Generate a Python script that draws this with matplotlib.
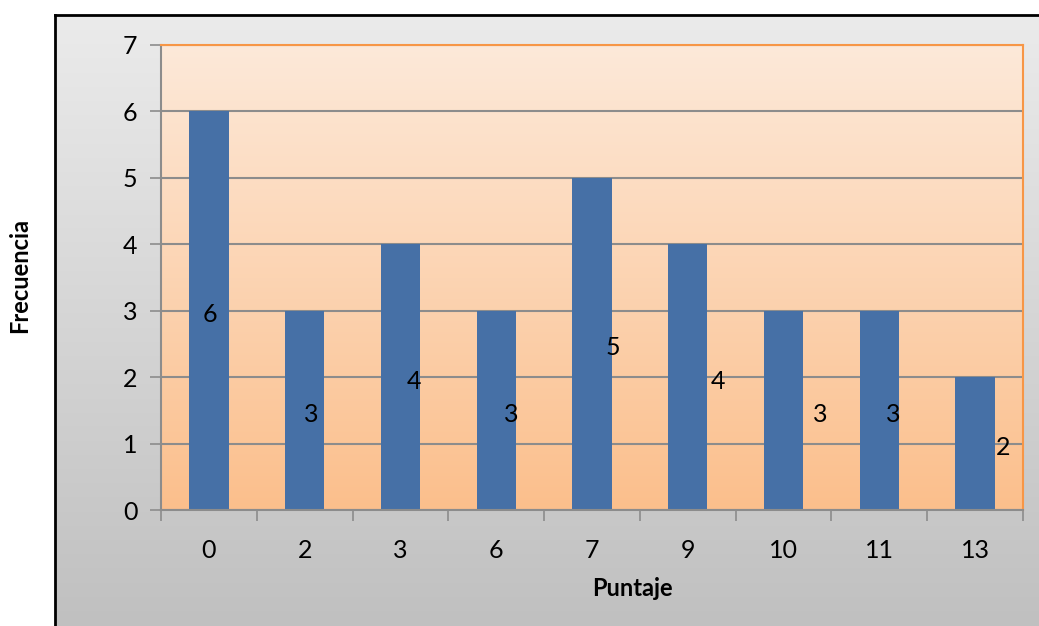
import numpy as np
import matplotlib.pyplot as plt
from matplotlib.colors import LinearSegmentedColormap

# frecuencia de cada puntaje
puntajes = ['0', '2', '3', '6', '7', '9', '10', '11', '13']
frecuencias = [6, 3, 4, 3, 5, 4, 3, 3, 2]

# desplazamiento horizontal de cada etiqueta de valor
desplaz = [0.01, 0.07, 0.14, 0.16, 0.22, 0.32, 0.38, 0.15, 0.29]

plt.rcParams['font.family'] = ['Lato', 'DejaVu Sans']

W, H = 1039, 626
fig = plt.figure(figsize=(W / 100, H / 100), dpi=100)
fig.patch.set_facecolor('white')

# panel gris de fondo
bg = fig.add_axes([55 / W, 0, 1 - 55 / W, 1 - 15 / H])
gris = LinearSegmentedColormap.from_list('gris', ['#c0c0c0', '#ebebeb'])
bg.imshow(np.linspace(0, 1, 256).reshape(-1, 1), cmap=gris, origin='lower',
          aspect='auto', extent=[0, 1, 0, 1])
bg.set_xlim(0, 1)
bg.set_ylim(0, 1)
bg.set_xticks([])
bg.set_yticks([])
for s in ['right', 'bottom']:
    bg.spines[s].set_visible(False)
for s in ['left', 'top']:
    bg.spines[s].set_color('black')
    bg.spines[s].set_linewidth(2)

# area de trazado
ax = fig.add_axes([161 / W, (H - 510) / H, 862 / W, 465 / H])
n = len(puntajes)
x = np.arange(n)
naranja = LinearSegmentedColormap.from_list('nar', ['#fbbf8c', '#fde9d9'])
ax.imshow(np.linspace(0, 1, 256).reshape(-1, 1), cmap=naranja, origin='lower',
          aspect='auto', extent=[-0.5, n - 0.5, 0, 7], zorder=0)

ax.set_xlim(-0.5, n - 0.5)
ax.set_ylim(0, 7)
ax.set_yticks(range(8))
ax.yaxis.grid(True, color='#8c8c8c', linewidth=1.5, zorder=1)
ax.set_axisbelow(True)

ax.bar(x, frecuencias, width=0.41, color='#4670a6', zorder=2)

for i, v in enumerate(frecuencias):
    ax.text(i + desplaz[i], v / 2 - 0.06, str(v), ha='center', va='center',
            fontsize=18, color='black', zorder=3)

ax.set_xticks(x)
ax.set_xticklabels(puntajes)
ax.set_xticks(np.arange(-0.5, n, 1), minor=True)
ax.tick_params(axis='x', which='major', length=0, pad=21, labelsize=18)
ax.tick_params(axis='x', which='minor', length=8, width=1.2, color='#8c8c8c')
ax.tick_params(axis='y', length=8, width=1.2, color='#8c8c8c', pad=9,
               labelsize=18)

for s in ['left', 'bottom']:
    ax.spines[s].set_color('#8c8c8c')
    ax.spines[s].set_linewidth(1.5)
for s in ['top', 'right']:
    ax.spines[s].set_color('#f79646')
    ax.spines[s].set_linewidth(1.5)

fig.text(632 / W, 1 - 589 / H, 'Puntaje', fontsize=17, fontweight='bold',
         ha='center', va='center')
fig.text(20 / W, 1 - 276 / H, 'Frecuencia', rotation=90, fontsize=17,
         fontweight='bold', ha='center', va='center')

fig.savefig('out.png', dpi=100)
